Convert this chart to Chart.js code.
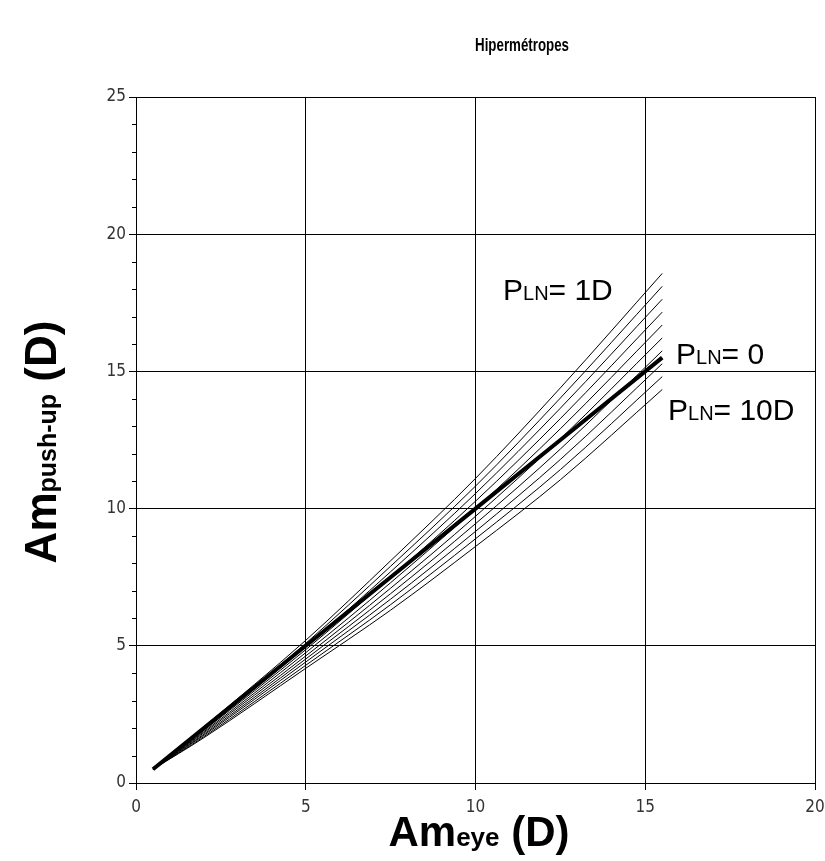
<!DOCTYPE html>
<html>
<head>
<meta charset="utf-8">
<script src="https://cdn.jsdelivr.net/npm/chart.js@4.4.1/dist/chart.umd.min.js"></script>
<style>
  html, body { margin: 0; padding: 0; background: #fff; }
  #wrap { width: 825px; height: 861px; }
</style>
</head>
<body>
<div id="wrap"><canvas id="c" width="825" height="861"></canvas></div>
<script>
// ---- data ----
const chartTitle = 'Hipermétropes';
const xTicks = [0, 5, 10, 15, 20];
const yTicks = [0, 5, 10, 15, 20, 25];
const amEye = [0.5, 2, 5, 7.5, 10, 12.5, 15.5];
const pln0  = [0.5, 2.00, 5.00, 7.50, 10.00, 12.50, 15.50];
const pln1  = [0.5, 2.05, 5.20, 8.10, 11.10, 14.40, 18.57];
const pln2  = [0.5, 2.01, 5.09, 7.90, 10.82, 14.03, 18.10];
const pln3  = [0.5, 1.96, 4.97, 7.70, 10.55, 13.66, 17.63];
const pln4  = [0.5, 1.92, 4.86, 7.50, 10.27, 13.28, 17.16];
const pln5  = [0.5, 1.87, 4.75, 7.30, 10.00, 12.91, 16.69];
const pln6  = [0.5, 1.83, 4.63, 7.10, 9.72, 12.54, 16.22];
const pln7  = [0.5, 1.78, 4.52, 6.90, 9.45, 12.17, 15.75];
const pln8  = [0.5, 1.74, 4.41, 6.70, 9.17, 11.79, 15.28];
const pln9  = [0.5, 1.69, 4.29, 6.50, 8.90, 11.42, 14.81];
const pln10 = [0.5, 1.65, 4.18, 6.30, 8.62, 11.05, 14.34];
const thinSeries = [pln1, pln2, pln3, pln4, pln5, pln6, pln7, pln8, pln9, pln10];
const thinNames = ['PLN 1D','PLN 2D','PLN 3D','PLN 4D','PLN 5D','PLN 6D','PLN 7D','PLN 8D','PLN 9D','PLN 10D'];

const FONT = '"Liberation Sans", Arial, sans-serif';
const NARROW = '"Liberation Sans Narrow", "DejaVu Sans Condensed", "Liberation Sans", Arial, sans-serif';

function pts(ys) { return amEye.map((x, i) => ({ x: x, y: ys[i] })); }

const datasets = thinSeries.map((s, i) => ({
  label: thinNames[i], data: pts(s), borderColor: '#000', borderWidth: 1,
  pointRadius: 0, fill: false, cubicInterpolationMode: 'monotone'
}));
datasets.push({
  label: 'PLN 0', data: pts(pln0), borderColor: '#000', borderWidth: 4,
  pointRadius: 0, fill: false, borderCapStyle: 'butt'
});

function drawRich(ctx, parts, x, y, align) {
  let total = 0;
  parts.forEach(p => { ctx.font = p.f; p.w = ctx.measureText(p.t).width; total += p.w; });
  let cx = align === 'center' ? x - total / 2 : (align === 'right' ? x - total : x);
  ctx.textAlign = 'left';
  ctx.textBaseline = 'alphabetic';
  parts.forEach(p => { ctx.font = p.f; ctx.fillText(p.t, cx, y); cx += p.w; });
}

const textPlugin = {
  id: 'texts',
  afterDraw(chart) {
    const ctx = chart.ctx;
    const ys = chart.scales.y;
    const area = chart.chartArea;
    ctx.save();
    // minor ticks on y axis
    ctx.strokeStyle = '#000';
    ctx.lineWidth = 1;
    for (let v = 1; v < 25; v++) {
      if (v % 5 === 0) continue;
      const py = Math.round(ys.getPixelForValue(v)) + 0.5;
      ctx.beginPath();
      ctx.moveTo(area.left - 4, py);
      ctx.lineTo(area.left, py);
      ctx.stroke();
    }
    ctx.fillStyle = '#000';
    // title (horizontally condensed like the reference)
    ctx.save();
    ctx.translate(522, 51);
    ctx.scale(0.7, 1);
    ctx.font = 'bold 19px ' + FONT;
    ctx.textAlign = 'center';
    ctx.textBaseline = 'alphabetic';
    ctx.fillText(chartTitle, 0, 0);
    ctx.restore();
    // x axis title
    drawRich(ctx, [
      { t: 'Am', f: 'bold 42px ' + FONT },
      { t: 'eye', f: 'bold 26px ' + FONT },
      { t: ' (D)', f: 'bold 42px ' + FONT }
    ], 479, 846, 'center');
    // y axis title
    ctx.save();
    ctx.translate(56, 442);
    ctx.rotate(-Math.PI / 2);
    drawRich(ctx, [
      { t: 'Am', f: 'bold 44px ' + FONT },
      { t: 'push-up', f: 'bold 25px ' + FONT },
      { t: ' (D)', f: 'bold 44px ' + FONT }
    ], 0, 0, 'center');
    ctx.restore();
    // annotations
    const big = '30px ' + FONT, small = '20px ' + FONT;
    drawRich(ctx, [{ t: 'P', f: big }, { t: 'LN', f: small }, { t: '= 1D', f: big }], 503, 300, 'left');
    drawRich(ctx, [{ t: 'P', f: big }, { t: 'LN', f: small }, { t: '= 0', f: big }], 676, 364, 'left');
    drawRich(ctx, [{ t: 'P', f: big }, { t: 'LN', f: small }, { t: '= 10D', f: big }], 668, 420, 'left');
    ctx.restore();
  }
};

new Chart(document.getElementById('c'), {
  type: 'line',
  data: { datasets: datasets },
  options: {
    responsive: false,
    animation: false,
    events: [],
    layout: { padding: { top: 97, right: 10, left: 0, bottom: 0 } },
    plugins: { legend: { display: false }, title: { display: false }, tooltip: { enabled: false } },
    scales: {
      x: {
        type: 'linear', min: 0, max: 20,
        afterBuildTicks: s => { s.ticks = xTicks.map(v => ({ value: v })); },
        afterFit: s => { s.height = 78; s.paddingLeft = 0; s.paddingRight = 0; },
        ticks: { color: '#333', font: { family: NARROW, size: 17 }, padding: 7, maxRotation: 0 },
        grid: { color: '#000', tickColor: '#000', tickLength: 7, lineWidth: 1 },
        border: { color: '#000', width: 1 }
      },
      y: {
        type: 'linear', min: 0, max: 25,
        afterBuildTicks: s => { s.ticks = yTicks.map(v => ({ value: v })); },
        afterFit: s => { s.width = 136; s.paddingTop = 0; s.paddingBottom = 0; },
        ticks: { color: '#333', font: { family: NARROW, size: 17 }, padding: 3 },
        grid: { color: '#000', tickColor: '#000', tickLength: 7, lineWidth: 1 },
        border: { color: '#000', width: 1 }
      }
    }
  },
  plugins: [textPlugin]
});
</script>
</body>
</html>
